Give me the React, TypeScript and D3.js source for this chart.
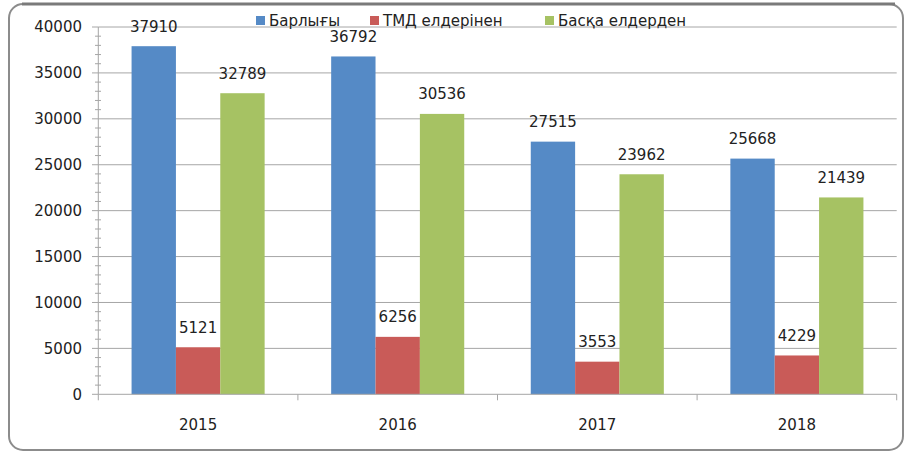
import React from "react";
import * as d3 from "d3";

const years = ["2015", "2016", "2017", "2018"];
const seriesNames = ["Барлығы", "ТМД елдерінен", "Басқа елдерден"];
const totalValues = [37910, 36792, 27515, 25668];
const cisValues = [5121, 6256, 3553, 4229];
const otherValues = [32789, 30536, 23962, 21439];
const yTicks = [0, 5000, 10000, 15000, 20000, 25000, 30000, 35000, 40000];
const colors = ["#558AC6", "#C95B58", "#A6C263"];

const W = 907, H = 454;
const left = 98.3, right = 896.7, top = 27, bottom = 394.3;
const FONT = "'DejaVu Sans', sans-serif";

export default function App() {
  const series = [totalValues, cisValues, otherValues];
  const x0 = d3.scaleBand().domain(years).range([left, right]).paddingInner(0).paddingOuter(0);
  const cw = x0.bandwidth();
  const groupW = cw / 1.5;
  const x1 = d3.scaleBand().domain(seriesNames).range([0, groupW]).padding(0);
  const y = d3.scaleLinear().domain([0, 40000]).range([bottom, top]);
  const minor = d3.range(0, 40001, 1000).filter((v) => v % 5000 !== 0);
  const legendX = [256, 370, 545];

  return (
    <svg width={W} height={H} style={{ position: "absolute", left: 0, top: 0 }}>
      <rect x={0} y={0} width={W} height={H} fill="#fff" />
      <rect x={9} y={4} width={894} height={446} rx={14} fill="#fff" stroke="#8c8c8c" strokeWidth={2} />
      <line x1={22} y1={4} x2={895} y2={4} stroke="#7a7a7a" strokeWidth={3} />
      {yTicks.map((t) => (
        <g key={t}>
          {t > 0 && <line x1={left} x2={right} y1={y(t)} y2={y(t)} stroke="#a6a6a6" strokeWidth={1} />}
          <line x1={92} x2={left} y1={y(t)} y2={y(t)} stroke="#a6a6a6" />
          <text x={82} y={y(t)} dy="0.36em" textAnchor="end" fontFamily={FONT} fontSize={15} fill="#222">{t}</text>
        </g>
      ))}
      {minor.map((t) => (
        <line key={t} x1={95} x2={101} y1={y(t)} y2={y(t)} stroke="#a6a6a6" />
      ))}
      <line x1={left} x2={left} y1={top} y2={bottom} stroke="#a6a6a6" />
      {years.map((yr, i) => {
        const gx = (x0(yr) as number) + (cw - groupW) / 2;
        return (
          <g key={yr}>
            {series.map((vals, s) => {
              const bx = gx + (x1(seriesNames[s]) as number);
              const bw = x1.bandwidth();
              return (
                <g key={s}>
                  <rect x={bx} y={y(vals[i])} width={bw} height={bottom - y(vals[i])} fill={colors[s]} />
                  <text x={bx + bw / 2} y={y(vals[i]) - 20} dy="0.36em" textAnchor="middle" fontFamily={FONT} fontSize={15} fill="#222">{vals[i]}</text>
                </g>
              );
            })}
            <text x={(x0(yr) as number) + cw / 2} y={425} dy="0.36em" textAnchor="middle" fontFamily={FONT} fontSize={15} fill="#222">{yr}</text>
          </g>
        );
      })}
      <line x1={left} x2={right} y1={bottom} y2={bottom} stroke="#a6a6a6" />
      {d3.range(0, 5).map((k) => (
        <line key={k} x1={left + k * cw} x2={left + k * cw} y1={bottom} y2={bottom + 6} stroke="#a6a6a6" />
      ))}
      {seriesNames.map((n, s) => (
        <g key={n}>
          <rect x={legendX[s]} y={16} width={9} height={9} fill={colors[s]} />
          <text x={legendX[s] + 13} y={20.5} dy="0.36em" fontFamily={FONT} fontSize={15} fill="#222">{n}</text>
        </g>
      ))}
    </svg>
  );
}
